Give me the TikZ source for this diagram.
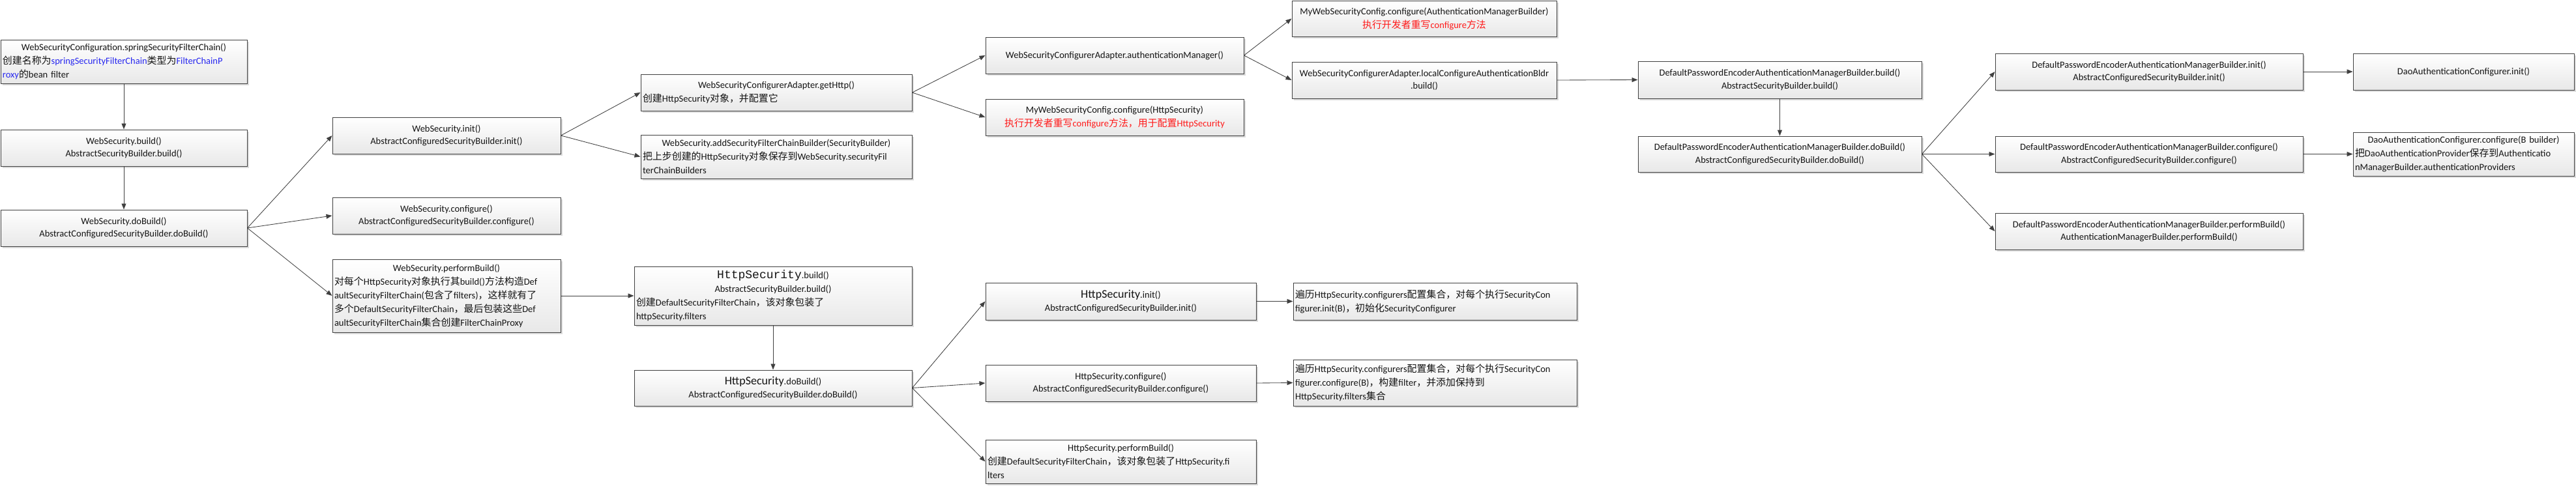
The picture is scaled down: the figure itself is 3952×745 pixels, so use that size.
\documentclass[tikz,border=0pt]{standalone}
\usepackage{fontspec}
\setmainfont{Carlito}
\newfontfamily\cjkf[Scale=1.03]{Noto Sans CJK SC}
\newfontfamily\monof{Liberation Mono}
\usetikzlibrary{arrows.meta,shadows}
\definecolor{edge}{HTML}{404040}
\definecolor{lnk}{HTML}{2828F0}
\definecolor{hl}{HTML}{FF1A1A}
\newcommand\zh[1]{{\cjkf #1}}
\newcommand\Lc[1]{\makebox[\hsize][c]{#1}}
\newcommand\Ll[1]{\makebox[\hsize][l]{#1}}
\newcommand\bigtxt[1]{{\fontsize{18}{19.5}\selectfont #1}}
\begin{document}
\begin{tikzpicture}[x=1pt,y=-1pt,
  box/.style 2 args={draw=edge, line width=1pt, rectangle,
    top color=white, bottom color=black!9,
    drop shadow={shadow xshift=2.5pt,shadow yshift=-2.5pt,fill=black!14,opacity=1},
    inner xsep=3pt, inner ysep=0pt, align=left, text=black!92,
    font=\fontsize{14.5}{19.5}\selectfont,
    minimum width=#1pt, minimum height=#2pt, text width=#1pt-6pt},
  zhs/.style={font=\fontsize{14.5}{21}\selectfont},
  arr/.style={draw=edge, line width=0.85pt, -{Triangle[length=9pt,width=7pt]}}]
\useasboundingbox (0,0) rectangle (3952,745);

\node[box={378}{67},zhs] (A) at (190,94.5) {\Lc{WebSecurityConfiguration.springSecurityFilterChain()}\\\Ll{\zh{创建名称为}\textcolor{lnk}{springSecurityFilterChain}\zh{类型为}\textcolor{lnk}{FilterChainP}}\\\Ll{\textcolor{lnk}{roxy}\zh{的}bean filter}};
\node[box={378}{56}] (B) at (190,227) {\Lc{WebSecurity.build()}\\\Lc{AbstractSecurityBuilder.build()}};
\node[box={378}{56}] (C) at (190,350) {\Lc{WebSecurity.doBuild()}\\\Lc{AbstractConfiguredSecurityBuilder.doBuild()}};

\node[box={350}{56}] (D) at (685,208) {\Lc{WebSecurity.init()}\\\Lc{AbstractConfiguredSecurityBuilder.init()}};
\node[box={350}{56}] (E) at (685,331) {\Lc{WebSecurity.configure()}\\\Lc{AbstractConfiguredSecurityBuilder.configure()}};
\node[box={350}{112},zhs] (F) at (685,454) {\Lc{WebSecurity.performBuild()}\\\Ll{\zh{对每个}HttpSecurity\zh{对象执行其}build()\zh{方法构造}Def}\\\Ll{aultSecurityFilterChain(\zh{包含了}filters)\zh{，这样就有了}}\\\Ll{\zh{多个}DefaultSecurityFilterChain\zh{，最后包装这些}Def}\\\Ll{aultSecurityFilterChain\zh{集合创建}FilterChainProxy}};

\node[box={426}{90},zhs] (G) at (1186,454) {\Lc{{\monof\fontsize{18}{19.5}\selectfont HttpSecurity}.build()}\\\Lc{AbstractSecurityBuilder.build()}\\\Ll{\zh{创建}DefaultSecurityFilterChain\zh{，该对象包装了}}\\\Ll{httpSecurity.filters}};
\node[box={426}{55}] (H) at (1186,595.5) {\Lc{\bigtxt{HttpSecurity}.doBuild()}\\\Lc{AbstractConfiguredSecurityBuilder.doBuild()}};

\node[box={416}{56},zhs] (I) at (1191,142) {\Lc{WebSecurityConfigurerAdapter.getHttp()}\\\Ll{\zh{创建}HttpSecurity\zh{对象，并配置它}}};
\node[box={416}{67},zhs] (J) at (1191,240.5) {\Lc{WebSecurity.addSecurityFilterChainBuilder(SecurityBuilder)}\\\Ll{\zh{把上步创建的}HttpSecurity\zh{对象保存到}WebSecurity.securityFil}\\\Ll{terChainBuilders}};

\node[box={396}{56}] (K) at (1710,85) {\Lc{WebSecurityConfigurerAdapter.authenticationManager()}};
\node[box={396}{56},zhs] (L) at (1710,180) {\Lc{MyWebSecurityConfig.configure(HttpSecurity)}\\\Lc{\color{hl}\zh{执行开发者重写}configure\zh{方法，用于配置}HttpSecurity}};

\node[box={406}{55},zhs] (M) at (2185,28.5) {\Lc{MyWebSecurityConfig.configure(AuthenticationManagerBuilder)}\\\Lc{\color{hl}\zh{执行开发者重写}configure\zh{方法}}};
\node[box={406}{56}] (N) at (2185,123) {\Lc{WebSecurityConfigurerAdapter.localConfigureAuthenticationBldr}\\\Lc{.build()}};

\node[box={435}{57}] (O) at (2730.5,122.5) {\Lc{DefaultPasswordEncoderAuthenticationManagerBuilder.build()}\\\Lc{AbstractSecurityBuilder.build()}};
\node[box={435}{55}] (P) at (2730.5,236.5) {\Lc{DefaultPasswordEncoderAuthenticationManagerBuilder.doBuild()}\\\Lc{AbstractConfiguredSecurityBuilder.doBuild()}};

\node[box={472}{56}] (Q) at (3297,110) {\Lc{DefaultPasswordEncoderAuthenticationManagerBuilder.init()}\\\Lc{AbstractConfiguredSecurityBuilder.init()}};
\node[box={472}{55}] (R) at (3297,236.5) {\Lc{DefaultPasswordEncoderAuthenticationManagerBuilder.configure()}\\\Lc{AbstractConfiguredSecurityBuilder.configure()}};
\node[box={472}{56}] (S) at (3297,355) {\Lc{DefaultPasswordEncoderAuthenticationManagerBuilder.performBuild()}\\\Lc{AuthenticationManagerBuilder.performBuild()}};

\node[box={339}{56}] (T) at (3779.5,110) {\Lc{DaoAuthenticationConfigurer.init()}};
\node[box={339}{67},zhs] (U) at (3779.5,236.5) {\Lc{DaoAuthenticationConfigurer.configure(B builder)}\\\Ll{\zh{把}DaoAuthenticationProvider\zh{保存到}Authenticatio}\\\Ll{nManagerBuilder.authenticationProviders}};

\node[box={415}{57}] (V) at (1719.5,462.5) {\Lc{\bigtxt{HttpSecurity}.init()}\\\Lc{AbstractConfiguredSecurityBuilder.init()}};
\node[box={415}{56}] (W) at (1719.5,588) {\Lc{HttpSecurity.configure()}\\\Lc{AbstractConfiguredSecurityBuilder.configure()}};
\node[box={415}{67},zhs] (X) at (1719.5,708.5) {\Lc{HttpSecurity.performBuild()}\\\Ll{\zh{创建}DefaultSecurityFilterChain\zh{，该对象包装了}HttpSecurity.fi}\\\Ll{lters}};

\node[box={435}{57},zhs] (Y) at (2201.5,462.5) {\Ll{\zh{遍历}HttpSecurity.configurers\zh{配置集合，对每个执行}SecurityCon}\\\Ll{figurer.init(B)\zh{，初始化}SecurityConfigurer}};
\node[box={435}{71},zhs] (Z) at (2201.5,587.5) {\Ll{\zh{遍历}HttpSecurity.configurers\zh{配置集合，对每个执行}SecurityCon}\\\Ll{figurer.configure(B)\zh{，构建}filter\zh{，并添加保持到}}\\\Ll{HttpSecurity.filters\zh{集合}}};

\draw[arr] (A.south) -- (B.north);
\draw[arr] (B.south) -- (C.north);
\draw[arr] (C.east) -- (D.west);
\draw[arr] (C.east) -- (E.west);
\draw[arr] (C.east) -- (F.west);
\draw[arr] (F.east) -- (G.west);
\draw[arr] (G.south) -- (H.north);
\draw[arr] (D.east) -- (I.west);
\draw[arr] (D.east) -- (J.west);
\draw[arr] (I.east) -- (K.west);
\draw[arr] (I.east) -- (L.west);
\draw[arr] (K.east) -- (M.west);
\draw[arr] (K.east) -- (N.west);
\draw[arr] (N.east) -- (O.west);
\draw[arr] (O.south) -- (P.north);
\draw[arr] (P.east) -- (Q.west);
\draw[arr] (P.east) -- (R.west);
\draw[arr] (P.east) -- (S.west);
\draw[arr] (Q.east) -- (T.west);
\draw[arr] (R.east) -- (U.west);
\draw[arr] (H.east) -- (V.west);
\draw[arr] (H.east) -- (W.west);
\draw[arr] (H.east) -- (X.west);
\draw[arr] (V.east) -- (Y.west);
\draw[arr] (W.east) -- (Z.west);
\end{tikzpicture}
\end{document}
